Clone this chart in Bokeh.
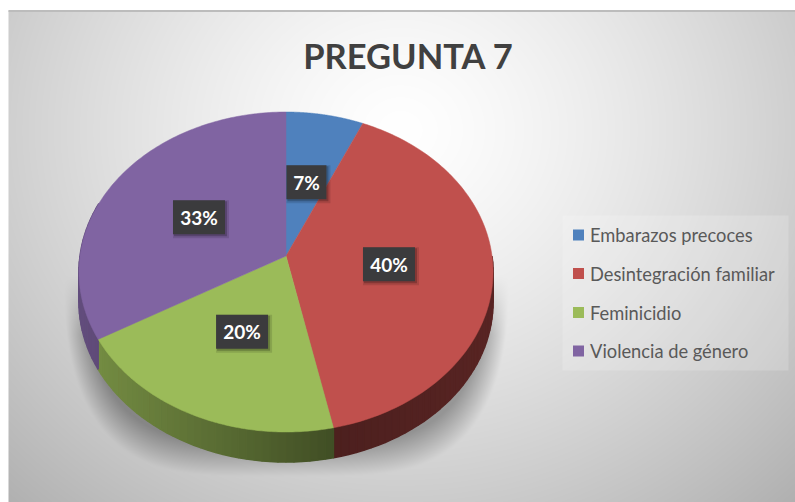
import numpy as np
from bokeh.plotting import figure
from bokeh.models import Range1d
from bokeh.core.properties import value
from bokeh.embed import file_html
from bokeh.resources import INLINE

TITLE = "PREGUNTA 7"
categories = ["Embarazos precoces", "Desintegración familiar", "Feminicidio", "Violencia de género"]
shares = [6.67, 40.0, 20.0, 33.33]
labels = ["7%", "40%", "20%", "33%"]
colors = ["#4F81BD", "#C0504D", "#9BBB59", "#8064A2"]

W, H = 795, 502
p = figure(width=W, height=H, x_range=Range1d(0, W), y_range=Range1d(H, 0),
           toolbar_location=None, output_backend="svg", min_border=0)
p.axis.visible = False
p.grid.visible = False
p.outline_line_color = None
p.background_fill_color = "white"
p.border_fill_color = "white"

# background: radial gradient and the soft shadow under the pie
xx, yy = np.meshgrid(np.arange(8, W) + .5, np.arange(10, H) + .5)
t = np.hypot((xx - 400) / 480, (yy - 130) / 430)
g = 255 - 62 * np.clip(t, 0, 1.3) ** 1.35
dx, dy = np.abs(xx - 286) / 222, np.abs(yy - 290) / 186
rho = (dx ** 4 + dy ** 2.2) ** 0.4
sh = np.clip((1 - rho) / 0.16, 0, 1) * np.clip((yy - 275) / 60, 0, 1)
g = g - 70 * sh
g = np.clip(g, 0, 255).astype(np.uint32)
img = (255 << 24) | (g << 16) | (g << 8) | g
p.image_rgba(image=[img], x=8, y=10, dw=W - 8, dh=H - 10)
p.line([8, W], [10.5, 10.5], line_color="#bcbcbc", line_width=2)

# pie geometry: a disc seen in perspective
CX, CY, A, B, K, DEPTH = 285.5, 255.5, 206, 158.4, 0.1, 30


def project(deg, r=1.0):
    a = np.radians(deg)
    X, Y = r * np.sin(a), r * np.cos(a)
    w = 1 + K * Y
    return CX + A * X / w, CY - B * Y / w


def mix(hex_color, f):
    c = [int(hex_color[i:i + 2], 16) for i in (1, 3, 5)]
    return "#%02x%02x%02x" % tuple(int(v * f) for v in c)


edges = np.concatenate([[0], np.cumsum(shares)]) / sum(shares) * 360

# side wall, drawn slice by slice in small shaded strips
wx, wy, wc = [], [], []
for i, col in enumerate(colors):
    s = np.arange(edges[i], edges[i + 1], 2.0)
    for a0 in s:
        a1 = min(a0 + 2.0, edges[i + 1])
        x0, y0 = project(a0)
        x1, y1 = project(a1)
        if not (90 < (a0 + a1) / 2 < 290):
            continue
        f = 0.42 + np.clip((333 - (x0 + x1) / 2) / 231, 0, 1.2) * 0.32
        if i == 1:
            f = 0.40 + 0.06 * np.clip(((x0 + x1) / 2 - 333) / 160, 0, 1)
        wx.append([x0, x1, x1, x0])
        wy.append([y0, y1, y1 + DEPTH, y0 + DEPTH])
        wc.append(mix(col, f))
p.patches(wx, wy, fill_color=wc, line_color=wc, line_width=1.5)

# top of the pie
for i, col in enumerate(colors):
    a = np.linspace(edges[i], edges[i + 1], 120)
    x, y = project(a)
    p.patch(np.r_[CX, x], np.r_[CY, y], fill_color=col, line_color=col, line_width=0.5)

# data labels
mid = (edges[:-1] + edges[1:]) / 2
lx, ly = project(mid, 0.5)
bw = [40 if len(s) == 2 else 52 for s in labels]
p.rect(lx + 2, ly + 2, width=[b + 4 for b in bw], height=38, fill_color="black", fill_alpha=0.12, line_color=None)
p.rect(lx + 1.5, ly + 1.5, width=[b + 1 for b in bw], height=35, fill_color="black", fill_alpha=0.22, line_color=None)
p.rect(lx, ly, width=bw, height=34, fill_color="#3b3b3d", line_color=None)
p.text(lx, ly, text=labels, text_color="white", text_font=value("Lato"), text_font_style="bold",
       text_font_size="19px", text_align="center", text_baseline="middle")

# title
p.text([408], [54.5], text=[TITLE], text_color="#404040", text_font=value("Lato"), text_font_style="bold",
       text_font_size="34.5px", text_align="center", text_baseline="middle")

# legend
p.rect([675], [292.5], width=226, height=155, fill_color="white", fill_alpha=0.18, line_color=None)
rows = [234.5, 273, 312, 350.5]
p.rect([578] * 4, rows, width=11, height=11, fill_color=colors, line_color=None)
p.text([589.5] * 4, rows, text=categories, text_color="#595959", text_font=value("Lato"),
       text_font_size="18.3px", text_align="left", text_baseline="middle")

open("out.html", "w").write(file_html(p, INLINE))
